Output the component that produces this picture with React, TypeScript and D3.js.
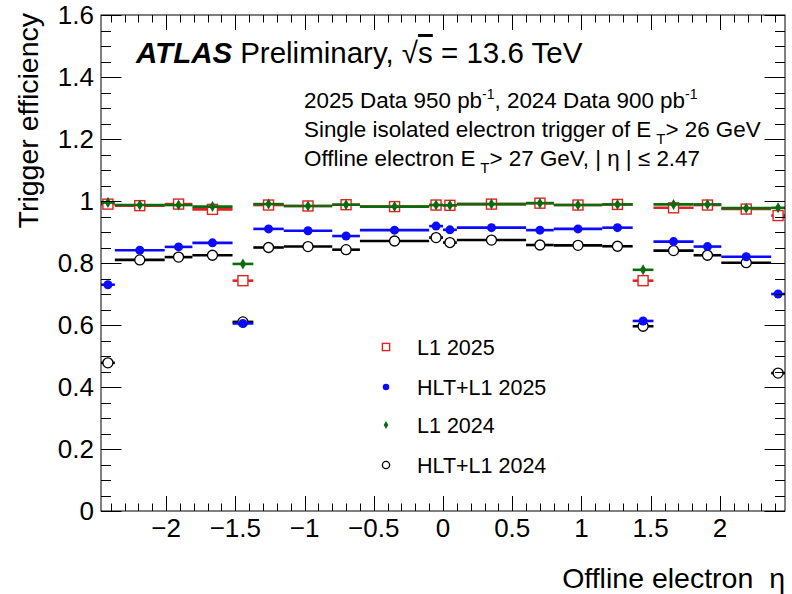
import * as d3 from "d3";

// eta bin edges (standard electron binning)
const ETA_EDGES = [
  -2.47, -2.37, -2.01, -1.81, -1.52, -1.37, -1.15, -0.8, -0.6, -0.1, 0, 0.1,
  0.6, 0.8, 1.15, 1.37, 1.52, 1.81, 2.01, 2.37, 2.47,
];

// efficiencies, one value per bin
const L1_2025 = [
  0.99, 0.985, 0.99, 0.973, 0.743, 0.987, 0.984, 0.988, 0.982, 0.987, 0.986,
  0.99, 0.993, 0.987, 0.989, 0.743, 0.978, 0.987, 0.974, 0.953,
];
const HLT_L1_2025 = [
  0.73, 0.841, 0.852, 0.865, 0.605, 0.91, 0.904, 0.887, 0.906, 0.919, 0.907,
  0.914, 0.906, 0.91, 0.914, 0.613, 0.869, 0.853, 0.82, 0.7,
];
const L1_2024 = [
  0.995, 0.987, 0.987, 0.982, 0.797, 0.99, 0.984, 0.988, 0.982, 0.987, 0.986,
  0.99, 0.993, 0.987, 0.989, 0.778, 0.989, 0.989, 0.977, 0.978,
];
const HLT_L1_2024 = [
  0.478, 0.81, 0.819, 0.825, 0.61, 0.85, 0.853, 0.843, 0.871, 0.882, 0.866,
  0.874, 0.858, 0.857, 0.854, 0.596, 0.84, 0.825, 0.801, 0.445,
];

const X_TICKS = [-2, -1.5, -1, -0.5, 0, 0.5, 1, 1.5, 2];
const Y_TICKS = [0, 0.2, 0.4, 0.6, 0.8, 1, 1.2, 1.4, 1.6];

const FONT = "'Liberation Sans', Arial, Helvetica, sans-serif";
const RED = "#e02222";
const BLUE = "#0a0aff";
const GREEN = "#0d6b0d";

const FRAME = { left: 101, right: 785, top: 15, bottom: 511 };

type Marker = "square" | "dot" | "diamond" | "circle";

type Series = {
  label: string;
  values: number[];
  color: string;
  marker: Marker;
};

const SERIES: Series[] = [
  { label: "L1 2025", values: L1_2025, color: RED, marker: "square" },
  { label: "HLT+L1 2025", values: HLT_L1_2025, color: BLUE, marker: "dot" },
  { label: "L1 2024", values: L1_2024, color: GREEN, marker: "diamond" },
  { label: "HLT+L1 2024", values: HLT_L1_2024, color: "#000", marker: "circle" },
];

// draw order: black under, green on top
const DRAW_ORDER = [3, 0, 1, 2];

function MarkerShape({
  kind,
  color,
  cx,
  cy,
  s = 1,
}: {
  kind: Marker;
  color: string;
  cx: number;
  cy: number;
  s?: number;
}) {
  if (kind === "square") {
    const h = 5 * s;
    return (
      <rect
        x={cx - h}
        y={cy - h}
        width={2 * h}
        height={2 * h}
        fill="#fff"
        stroke={color}
        strokeWidth={1.4}
      />
    );
  }
  if (kind === "dot") {
    return <circle cx={cx} cy={cy} r={4.5 * s} fill={color} />;
  }
  if (kind === "diamond") {
    const w = 3.2 * s;
    const h = 5.5 * s;
    return (
      <path
        d={`M${cx},${cy - h}L${cx + w},${cy}L${cx},${cy + h}L${cx - w},${cy}Z`}
        fill={color}
      />
    );
  }
  return (
    <circle
      cx={cx}
      cy={cy}
      r={5 * s}
      fill="#fff"
      stroke={color}
      strokeWidth={1.3}
    />
  );
}

export default function App() {
  const width = 792;
  const height = 594;

  const x = d3
    .scaleLinear()
    .domain([-2.47, 2.47])
    .range([FRAME.left, FRAME.right]);
  const y = d3
    .scaleLinear()
    .domain([0, 1.6])
    .range([FRAME.bottom, FRAME.top]);

  const xMinor = d3.range(-24, 25).map((i) => i / 10);
  const yMinor = d3.range(0, 33).map((i) => i / 20);

  const fmt = (v: number) => (v < 0 ? "\u2212" + String(-v) : String(v));

  const bins = ETA_EDGES.slice(0, -1).map((lo, i) => ({
    lo,
    hi: ETA_EDGES[i + 1],
    mid: (lo + ETA_EDGES[i + 1]) / 2,
  }));

  const legendX = 386;
  const legendY = [347, 387, 425, 465];

  return (
    <svg
      width={width}
      height={height}
      style={{ position: "absolute", left: 0, top: 0, background: "#fff" }}
      fontFamily={FONT}
    >
      <rect width={width} height={height} fill="#fff" />

      {/* data */}
      {DRAW_ORDER.map((si) => {
        const s = SERIES[si];
        return (
          <g key={s.label}>
            {bins.map((b, i) => (
              <line
                key={i}
                x1={x(b.lo)}
                x2={x(b.hi)}
                y1={y(s.values[i])}
                y2={y(s.values[i])}
                stroke={s.color}
                strokeWidth={2.6}
              />
            ))}
            {bins.map((b, i) => (
              <MarkerShape
                key={"m" + i}
                kind={s.marker}
                color={s.color}
                cx={x(b.mid)}
                cy={y(s.values[i])}
              />
            ))}
          </g>
        );
      })}

      {/* frame */}
      <rect
        x={FRAME.left}
        y={FRAME.top}
        width={FRAME.right - FRAME.left}
        height={FRAME.bottom - FRAME.top}
        fill="none"
        stroke="#000"
        strokeWidth={1}
      />

      {/* x ticks bottom and top */}
      {xMinor.map((v) => {
        const major = X_TICKS.some((t) => Math.abs(t - v) < 1e-6);
        const len = major ? 15 : 7.5;
        const px = Math.round(x(v)) + 0.5;
        return (
          <g key={"xt" + v} stroke="#000" strokeWidth={1}>
            <line x1={px} x2={px} y1={FRAME.bottom} y2={FRAME.bottom - len} />
            <line x1={px} x2={px} y1={FRAME.top} y2={FRAME.top + len} />
          </g>
        );
      })}

      {/* y ticks left and right */}
      {yMinor.map((v) => {
        const major = Math.abs(v * 5 - Math.round(v * 5)) < 1e-6;
        const len = major ? 20.5 : 10;
        const py = Math.round(y(v)) + 0.5;
        return (
          <g key={"yt" + v} stroke="#000" strokeWidth={1}>
            <line x1={FRAME.left} x2={FRAME.left + len} y1={py} y2={py} />
            <line x1={FRAME.right} x2={FRAME.right - len} y1={py} y2={py} />
          </g>
        );
      })}

      {/* tick labels */}
      {X_TICKS.map((t) => (
        <text
          key={"xl" + t}
          x={x(t)}
          y={537}
          fontSize={26}
          textAnchor="middle"
          fill="#000"
        >
          {fmt(t)}
        </text>
      ))}
      {Y_TICKS.map((t) => (
        <text
          key={"yl" + t}
          x={94}
          y={y(t) + 9}
          fontSize={26}
          textAnchor="end"
          fill="#000"
        >
          {String(t)}
        </text>
      ))}

      {/* axis titles */}
      <text x={785} y={588} fontSize={28.5} textAnchor="end" fill="#000">
        Offline electron {"\u00a0"}η
      </text>
      <text
        transform="translate(38,13) rotate(-90)"
        fontSize={28.5}
        textAnchor="end"
        fill="#000"
      >
        Trigger efficiency
      </text>

      {/* ATLAS label */}
      <text x={136} y={63} fontSize={29.5} fill="#000">
        <tspan fontWeight="bold" fontStyle="italic">
          ATLAS
        </tspan>
        <tspan dx={8}>Preliminary, √</tspan>
        <tspan textDecoration="overline">s</tspan>
        <tspan>{" = 13.6 TeV"}</tspan>
      </text>

      <text x={304} y={108} fontSize={22.4} fill="#000">
        2025 Data 950 pb
        <tspan fontSize={14} dy={-9}>
          -1
        </tspan>
        <tspan dy={9}>, 2024 Data 900 pb</tspan>
        <tspan fontSize={14} dy={-9}>
          -1
        </tspan>
      </text>
      <text x={304} y={137} fontSize={22.4} fill="#000">
        Single isolated electron trigger of E
        <tspan fontSize={15} dx={5} dy={7}>
          T
        </tspan>
        <tspan dy={-7}>{"> 26 GeV"}</tspan>
      </text>
      <text x={304} y={166} fontSize={22.4} fill="#000">
        Offline electron E
        <tspan fontSize={15} dx={5} dy={7}>
          T
        </tspan>
        <tspan dy={-7}>{"> 27 GeV, | η | ≤ 2.47"}</tspan>
      </text>

      {/* legend */}
      {SERIES.map((s, i) => (
        <g key={"lg" + s.label}>
          <MarkerShape
            kind={s.marker}
            color={s.color}
            cx={legendX}
            cy={legendY[i]}
            s={0.72}
          />
          <text x={417} y={legendY[i] + 7.5} fontSize={21.5} fill="#000">
            {s.label}
          </text>
        </g>
      ))}
    </svg>
  );
}
